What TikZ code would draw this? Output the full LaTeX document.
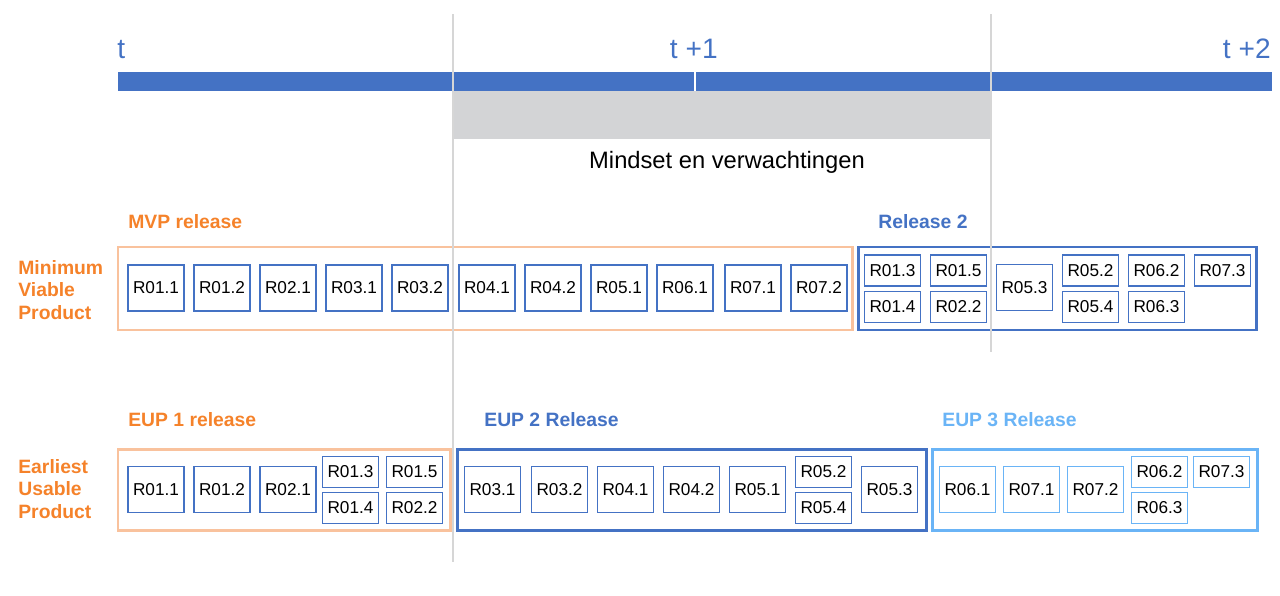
\documentclass[tikz,border=0pt]{standalone}
\usepackage{fontspec}
\setmainfont{Liberation Sans}
\definecolor{barblue}{HTML}{4472C4}
\definecolor{relorange}{HTML}{F5822A}
\definecolor{peach}{HTML}{F9C29D}
\definecolor{lightblue}{HTML}{6AB4F6}
\definecolor{band}{HTML}{D3D4D6}
\definecolor{rule}{HTML}{D6D6D6}
\tikzset{
  req/.style={draw=barblue,line width=1.1pt,minimum width=1.12cm,minimum height=0.92cm,inner sep=0pt,font=\fontsize{9.8}{11}\selectfont},
  reqhalf/.style={req,minimum height=0.62cm},
  lbl/.style={font=\fontsize{11}{13}\selectfont\bfseries,inner sep=0pt},
  frame/.style={line width=1.7pt}
}

\begin{document}
\begin{tikzpicture}[x=0.02cm,y=-0.02cm]
\useasboundingbox (0,0) rectangle (1280,595);
% tijdlijn
\fill[barblue] (118,72) rectangle (1272,91);
\fill[white] (694,72) rectangle (696,91);
\fill[band] (453,91) rectangle (991,139);
\node[font=\fontsize{16}{18}\selectfont,text=barblue,anchor=base west,inner sep=0pt] (t0) at (117,58) {t};
\node[font=\fontsize{16}{18}\selectfont,text=barblue,anchor=base east,inner sep=0pt] (t1) at (718,58) {t +1};
\node[font=\fontsize{16}{18}\selectfont,text=barblue,anchor=base east,inner sep=0pt] (t2) at (1271,58) {t +2};
\node[font=\fontsize{13.5}{15}\selectfont,inner sep=0pt] (mindset) at (727,162) {Mindset en verwachtingen};

% MVP
\node[lbl,text=relorange,align=left,anchor=west] (mvpname) at (18,290) {Minimum\\Viable\\Product};
\node[lbl,text=relorange,anchor=west] (mvplbl) at (128,222) {MVP release};
\node[lbl,text=barblue,anchor=west] (rel2lbl) at (878,222) {Release 2};
\draw[frame,peach] (118,247) rectangle (852,330);
\draw[frame,barblue] (858,247) rectangle (1256,330);
\foreach \x/\t [count=\i] in {156/R01.1,222/R01.2,288/R02.1,354/R03.1,420/R03.2,487/R04.1,553/R04.2,619/R05.1,685/R06.1,753/R07.1,819/R07.2}
  \node[req] (mvp\i) at (\x,288) {\t};
\foreach \x/\y/\t [count=\i] in {892.5/270.5/R01.3,892.5/307/R01.4,958.5/270.5/R01.5,958.5/307/R02.2,1090.5/270.5/R05.2,1090.5/307/R05.4,1156.5/270.5/R06.2,1156.5/307/R06.3,1222.5/270.5/R07.3}
  \node[reqhalf] (rel\i) at (\x,\y) {\t};
\node[req] (rel53) at (1024.5,287.5) {R05.3};

% EUP
\node[lbl,text=relorange,align=left,anchor=west] (eupname) at (18,489) {Earliest\\Usable\\Product};
\node[lbl,text=relorange,anchor=west] (eup1lbl) at (128,420) {EUP 1 release};
\node[lbl,text=barblue,anchor=west] (eup2lbl) at (484,420) {EUP 2 Release};
\node[lbl,text=lightblue,anchor=west] (eup3lbl) at (942,420) {EUP 3 Release};
\draw[frame,peach] (118,449) rectangle (450,530);
\draw[frame,barblue] (457,449) rectangle (926,530);
\draw[frame,lightblue] (932,449) rectangle (1257,530);
\foreach \x/\t [count=\i] in {156/R01.1,222/R01.2,288/R02.1,492.5/R03.1,559.5/R03.2,625.5/R04.1,691.5/R04.2,757.5/R05.1,889.5/R05.3}
  \node[req] (eup\i) at (\x,489.5) {\t};
\foreach \x/\y/\t [count=\i] in {350.5/472/R01.3,350.5/508/R01.4,414.5/472/R01.5,414.5/508/R02.2,823.5/472/R05.2,823.5/508/R05.4}
  \node[reqhalf] (euph\i) at (\x,\y) {\t};
\foreach \x/\t [count=\i] in {967.5/R06.1,1031.5/R07.1,1095.5/R07.2}
  \node[req,draw=lightblue] (eupl\i) at (\x,489.5) {\t};
\foreach \x/\y/\t [count=\i] in {1159.5/472/R06.2,1159.5/508/R06.3,1221.5/472/R07.3}
  \node[reqhalf,draw=lightblue] (eupm\i) at (\x,\y) {\t};

% scheidingslijnen
\draw[rule,line width=1.1pt] (453,14) -- (453,562);
\draw[rule,line width=1.1pt] (991,14) -- (991,352);
\end{tikzpicture}
\end{document}
